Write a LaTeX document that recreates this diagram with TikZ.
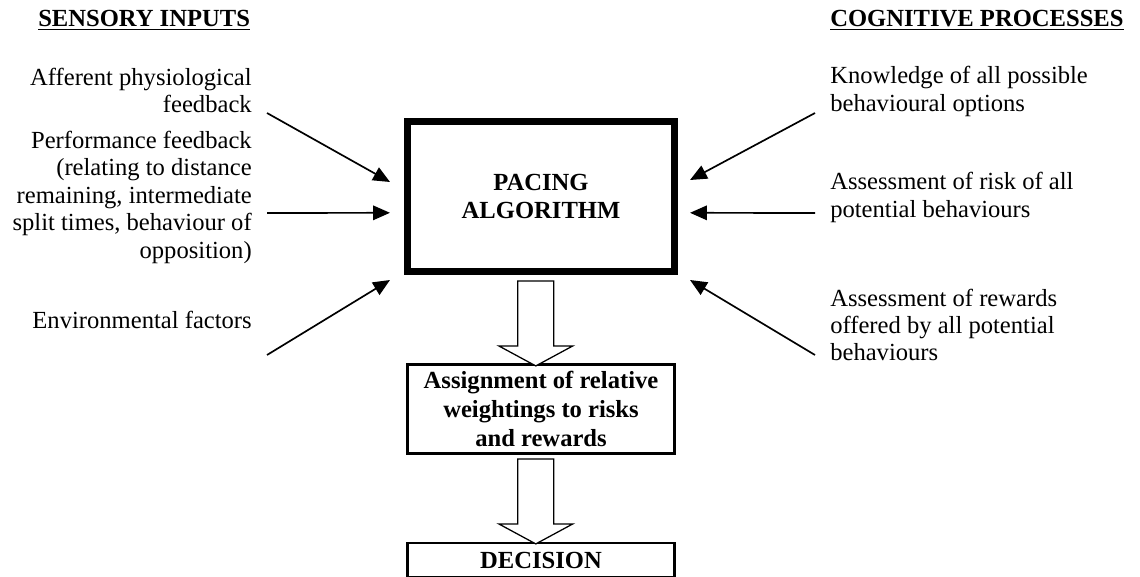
\documentclass[tikz,border=0pt]{standalone}
\usepackage{fontspec}
\setmainfont{Liberation Serif}
\usetikzlibrary{arrows.meta,calc,positioning}
\tikzset{
	lbl/.style={font=\fontsize{17.5}{19.5}\selectfont, inner sep=0pt},
	head/.style={font=\fontsize{17.5}{19.5}\selectfont\bfseries, inner sep=0pt},
	boxlbl/.style={font=\fontsize{17.5}{20.5}\selectfont\bfseries, align=center, draw, minimum width=6.675cm, inner sep=0pt},
	feed/.style={line width=1.2pt, -{Triangle[length=4.2mm,width=3.6mm]}},
	fatarrow/.pic={\draw[line width=0.9pt, fill=white] (-0.45,0) -- (-0.45,-1.625) -- (-0.925,-1.625) -- (0,-2.125) -- (0.925,-1.625) -- (0.45,-1.625) -- (0.45,0) -- cycle;}
}
\begin{document}
\begin{tikzpicture}
		\clip (0,0) rectangle (28.5,-14.4);
		% headings
		\node[head, anchor=west] (sens) at (0.95,-0.5) {\underline{SENSORY INPUTS}};
		\node[head, anchor=west] (cogn) at (20.75,-0.5) {\underline{COGNITIVE PROCESSES}};
		% sensory inputs
		\node[lbl, align=right, anchor=east] (aff) at (6.3,-2.26) {Afferent physiological\\feedback};
		\node[lbl, align=right, anchor=east] (perf) at (6.3,-4.93) {Performance feedback\\(relating to distance\\remaining, intermediate\\split times, behaviour of\\opposition)};
		\node[lbl, anchor=east] (env) at (6.3,-8.0) {Environmental factors};
		% cognitive processes
		\node[lbl, align=left, anchor=west] (know) at (20.75,-2.29) {Knowledge of all possible\\behavioural options};
		\node[lbl, align=left, anchor=west] (risk) at (20.75,-4.94) {Assessment of risk of all\\potential behaviours};
		\node[lbl, align=left, anchor=west] (rew) at (20.75,-8.125) {Assessment of rewards\\offered by all potential\\behaviours};
		% central column
		\node[boxlbl, line width=5pt, minimum height=3.75cm] (pacing) at (13.525,-4.91) {PACING\\ALGORITHM};
		\node[boxlbl, line width=2pt, minimum height=2.225cm] (assign) at (13.525,-10.225) {Assignment of relative\\weightings to risks\\and rewards};
		\node[boxlbl, line width=2pt, minimum height=0.85cm] (dec) at (13.525,-14.0) {DECISION};
		\pic at ($(pacing.south)+(-0.13,-0.15)$) {fatarrow};
		\pic at ($(assign.south)+(-0.13,-0.1)$) {fatarrow};
		% arrows into the algorithm
		\coordinate (l1) at (6.675,-2.825);
		\coordinate (l2) at (6.675,-5.325);
		\coordinate (l3) at (6.675,-8.875);
		\coordinate (r1) at (20.375,-2.825);
		\coordinate (r2) at (20.375,-5.325);
		\coordinate (r3) at (20.375,-8.875);
		\draw[feed] (l1) -- ($(pacing.west)+(-0.35,0.36)$);
		\draw[feed] (l2) -- ($(pacing.west)+(-0.35,-0.41)$);
		\draw[feed] (l3) -- ($(pacing.west)+(-0.35,-2.09)$);
		\draw[feed] (r1) -- ($(pacing.east)+(0.3,0.41)$);
		\draw[feed] (r2) -- ($(pacing.east)+(0.3,-0.41)$);
		\draw[feed] (r3) -- ($(pacing.east)+(0.3,-2.09)$);
\end{tikzpicture}
\end{document}
